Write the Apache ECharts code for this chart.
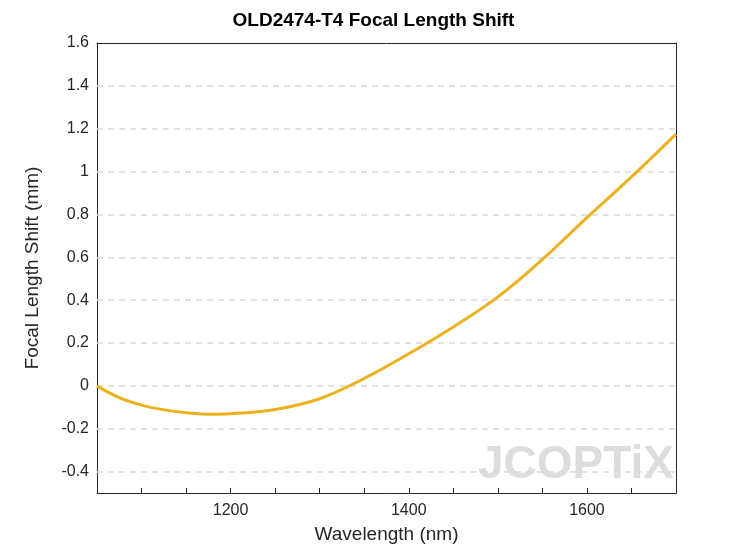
<!DOCTYPE html>
<html><head><meta charset="utf-8">
<script src="https://cdn.jsdelivr.net/npm/echarts@6/dist/echarts.min.js"></script>
<style>html,body{margin:0;padding:0;background:#fff}#c{width:747px;height:560px}</style>
</head><body><div id="c"></div>
<script>
const wavelength = [1050,1075,1100,1125,1150,1180,1200,1250,1300,1350,1400,1450,1500,1550,1600,1650,1700];
const shift = [0,-0.055,-0.09,-0.112,-0.125,-0.132,-0.13,-0.11,-0.06,0.035,0.15,0.275,0.415,0.59,0.785,0.975,1.175];
const gridValues = [-0.4,-0.2,0,0.2,0.4,0.6,0.8,1,1.2,1.4];
const chart = echarts.init(document.getElementById('c'));
const ax = {color:'#262626', fontSize:16, fontFamily:'Liberation Sans'};
const line = {onZero:false,lineStyle:{color:'#262626'}};
chart.setOption({
  animation:false,
  title:{text:'OLD2474-T4 Focal Length Shift',left:'center',top:6,textStyle:{fontSize:19,fontWeight:'bold',color:'#000',fontFamily:'Liberation Sans'}},
  grid:{left:97,right:71,top:43,bottom:67},
  xAxis:[{type:'value',min:1050,max:1700,interval:50,
    name:'Wavelength (nm)',nameLocation:'middle',nameGap:32,nameTextStyle:{fontSize:19,color:'#262626',fontFamily:'Liberation Sans'},
    axisLine:line,axisTick:{inside:true,length:5,lineStyle:{color:'#262626'}},
    axisLabel:Object.assign({formatter:v=>(v%200===0?v:''),margin:10},ax),splitLine:{show:false}},
    {type:'value',position:'top',min:1050,max:1700,axisLine:line,axisTick:{show:false},axisLabel:{show:false},splitLine:{show:false}}],
  yAxis:[{type:'value',min:-0.5,max:1.6,interval:0.1,
    name:'Focal Length Shift (mm)',nameLocation:'middle',nameGap:55,nameTextStyle:{fontSize:19,color:'#262626',fontFamily:'Liberation Sans'},
    axisLine:line,axisTick:{show:false},
    axisLabel:Object.assign({formatter:v=>{const r=Math.round(v*10);return (r%2===0&&r!==-5)?String(+(r/10).toFixed(1)):'';}},ax),
    splitLine:{show:false}},
    {type:'value',position:'right',min:-0.5,max:1.6,axisLine:line,axisTick:{show:false},axisLabel:{show:false},splitLine:{show:false}}],
  graphic:[
    {type:'text',left:478,top:442,style:{text:'JCOPTiX',fontSize:46,fontWeight:'bold',fill:'rgba(170,170,170,0.4)',fontFamily:'Liberation Sans'},z:1}
  ],
  series:[{type:'line',data:wavelength.map((w,i)=>[w,shift[i]]),smooth:0.4,showSymbol:false,lineStyle:{color:'#EDB120',width:3},z:5,
    markLine:{silent:true,symbol:'none',label:{show:false},lineStyle:{color:'#d9d9d9',type:[6,5],width:1.5},
      data:gridValues.map(v=>({yAxis:v}))}}]
});
</script></body></html>
